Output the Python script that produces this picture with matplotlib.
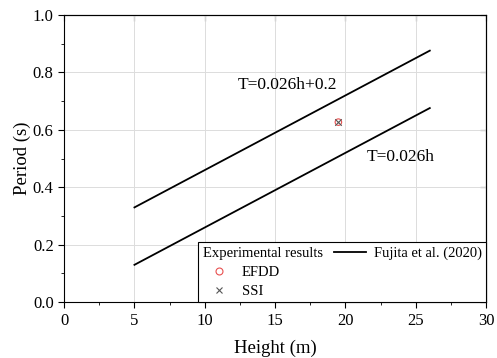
import matplotlib.pyplot as plt
from matplotlib.lines import Line2D
from matplotlib.ticker import MultipleLocator

plt.rcParams['font.family'] = ['Liberation Serif', 'DejaVu Serif']

# Fujita et al. (2020) relations, plotted between h=5 and h=26
h_line = [5, 26]
t_lower = [0.026 * h for h in h_line]
t_upper = [0.026 * h + 0.2 for h in h_line]

# experimental results
h_efdd = [19.5]
t_efdd = [0.627]
h_ssi = [19.5]
t_ssi = [0.627]

fig = plt.figure(figsize=(4.97, 3.58), dpi=100)
ax = fig.add_axes([0.129, 0.156, 0.849, 0.802])

ax.plot(h_line, t_upper, color='black', lw=1.3)
ax.plot(h_line, t_lower, color='black', lw=1.3)
ax.scatter(h_efdd, t_efdd, marker='o', s=22, facecolors='none', edgecolors='#e8504f', lw=0.8, zorder=3)
ax.scatter(h_ssi, t_ssi, marker='x', s=22, color='#555555', lw=0.8, zorder=3)

ax.text(15.9, 0.756, 'T=0.026h+0.2', fontsize=12.5, ha='center', va='center')
ax.text(23.9, 0.505, 'T=0.026h', fontsize=12.5, ha='center', va='center')

ax.set_xlim(0, 30)
ax.set_ylim(0, 1.0)
ax.xaxis.set_major_locator(MultipleLocator(5))
ax.xaxis.set_minor_locator(MultipleLocator(2.5))
ax.yaxis.set_major_locator(MultipleLocator(0.2))
ax.yaxis.set_minor_locator(MultipleLocator(0.1))
ax.yaxis.set_major_formatter(plt.FormatStrFormatter('%.1f'))
ax.grid(True, which='major', color='#dcdcdc', lw=0.7)
ax.set_axisbelow(True)
ax.tick_params(which='both', labelsize=12, direction='out')
ax.tick_params(which='major', length=4)
ax.tick_params(which='minor', length=2)
ax.set_xlabel('Height (m)', fontsize=13.5, labelpad=8)
ax.set_ylabel('Period (s)', fontsize=13.5, labelpad=1)

# top and right: inward ticks, no labels
for sec in (ax.secondary_xaxis('top'), ax.secondary_yaxis('right')):
    sec.tick_params(which='both', direction='in', labeltop=False, labelright=False,
                    labelbottom=False, labelleft=False)
    sec.tick_params(which='major', length=4)
    sec.tick_params(which='minor', length=2)

handles = [
    Line2D([], [], linestyle='none'),
    Line2D([], [], linestyle='none', marker='o', markerfacecolor='none', markeredgecolor='#e8504f', markersize=5, markeredgewidth=0.8),
    Line2D([], [], linestyle='none', marker='x', color='#555555', markersize=5, markeredgewidth=0.8),
    Line2D([], [], color='black', lw=1.3),
    Line2D([], [], linestyle='none'),
    Line2D([], [], linestyle='none'),
]
labels = ['Experimental results', 'EFDD', 'SSI', 'Fujita et al. (2020)', ' ', ' ']
leg = ax.legend(handles, labels, loc='lower right', ncol=2, fontsize=10.5, fancybox=False,
                edgecolor='black', framealpha=1, borderaxespad=0, handlelength=2.2,
                handletextpad=0.5, columnspacing=0.8, labelspacing=0.38, borderpad=0.3)
leg.get_frame().set_linewidth(0.8)
# the header entry gets no handle space
first_row = leg._legend_handle_box.get_children()[0].get_children()[0]
first_row.get_children()[0].width = 0
first_row.sep = 0

fig.savefig('out.png', dpi=100)
